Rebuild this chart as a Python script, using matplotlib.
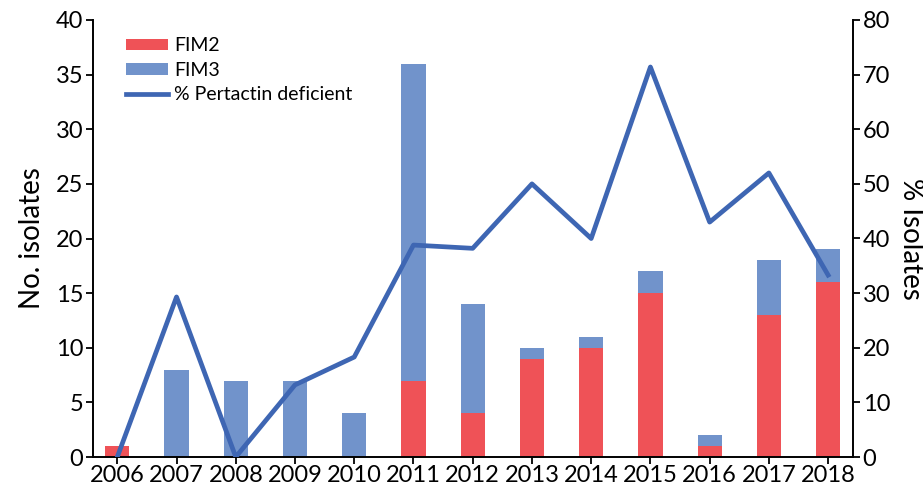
import matplotlib
matplotlib.use("Agg")
import matplotlib.pyplot as plt
import numpy as np

years = ["2006", "2007", "2008", "2009", "2010", "2011", "2012",
         "2013", "2014", "2015", "2016", "2017", "2018"]
fim2 = [1, 0, 0, 0, 0, 7, 4, 9, 10, 15, 1, 13, 16]
fim3 = [0, 8, 7, 7, 4, 29, 10, 1, 1, 2, 1, 5, 3]
pct_prn_def = [0, 29.3, 0, 13.2, 18.3, 38.8, 38.2, 50, 40, 71.4, 43, 52, 33.3]

plt.rcParams['font.family'] = ['Lato', 'DejaVu Sans']

fig = plt.figure(figsize=(9.23, 4.88), dpi=100)
ax = fig.add_axes([93/923, 31/488, 760/923, 437/488])
x = np.arange(len(years))
red = "#EF5257"
blue = "#7193CB"
line_c = "#3E66B3"
w = 0.41
ax.bar(x, fim2, width=w, color=red, label="FIM2", zorder=2)
ax.bar(x, fim3, width=w, bottom=fim2, color=blue, label="FIM3", zorder=2)
ax.set_xlim(-0.41, 12.42)
ax.set_ylim(0, 40)
ax.set_yticks(range(0, 41, 5))
ax.set_xticks(x)
ax.set_xticklabels(years)
ax.set_ylabel("No. isolates", fontsize=20, labelpad=8)
ax.tick_params(axis='both', labelsize=17, direction='out', length=5, width=1.3)
ax.tick_params(axis='x', pad=1)
ax.tick_params(axis='y', pad=2)
for s in ['top', 'right']:
    ax.spines[s].set_visible(False)
for s in ['left', 'bottom']:
    ax.spines[s].set_linewidth(1.4)

ax2 = ax.twinx()
ln, = ax2.plot(x, pct_prn_def, color=line_c, lw=3.4, label="% Pertactin deficient", zorder=3)
ax2.set_ylim(0, 80)
ax2.set_yticks(range(0, 81, 10))
ax2.set_ylabel("% Isolates", fontsize=20, rotation=270, labelpad=24)
ax2.tick_params(axis='y', labelsize=17, direction='out', length=5, width=1.3, pad=2)
for s in ['top', 'left', 'bottom']:
    ax2.spines[s].set_visible(False)
ax2.spines['right'].set_linewidth(1.4)

h1, l1 = ax.get_legend_handles_labels()
ax2.legend(h1 + [ln], l1 + [ln.get_label()], loc='upper left',
           bbox_to_anchor=(0.02, 1.0), frameon=False, fontsize=14,
           handlelength=2.2, handleheight=0.5, labelspacing=0.38,
           handletextpad=0.3)

fig.savefig("out.png", dpi=100)
